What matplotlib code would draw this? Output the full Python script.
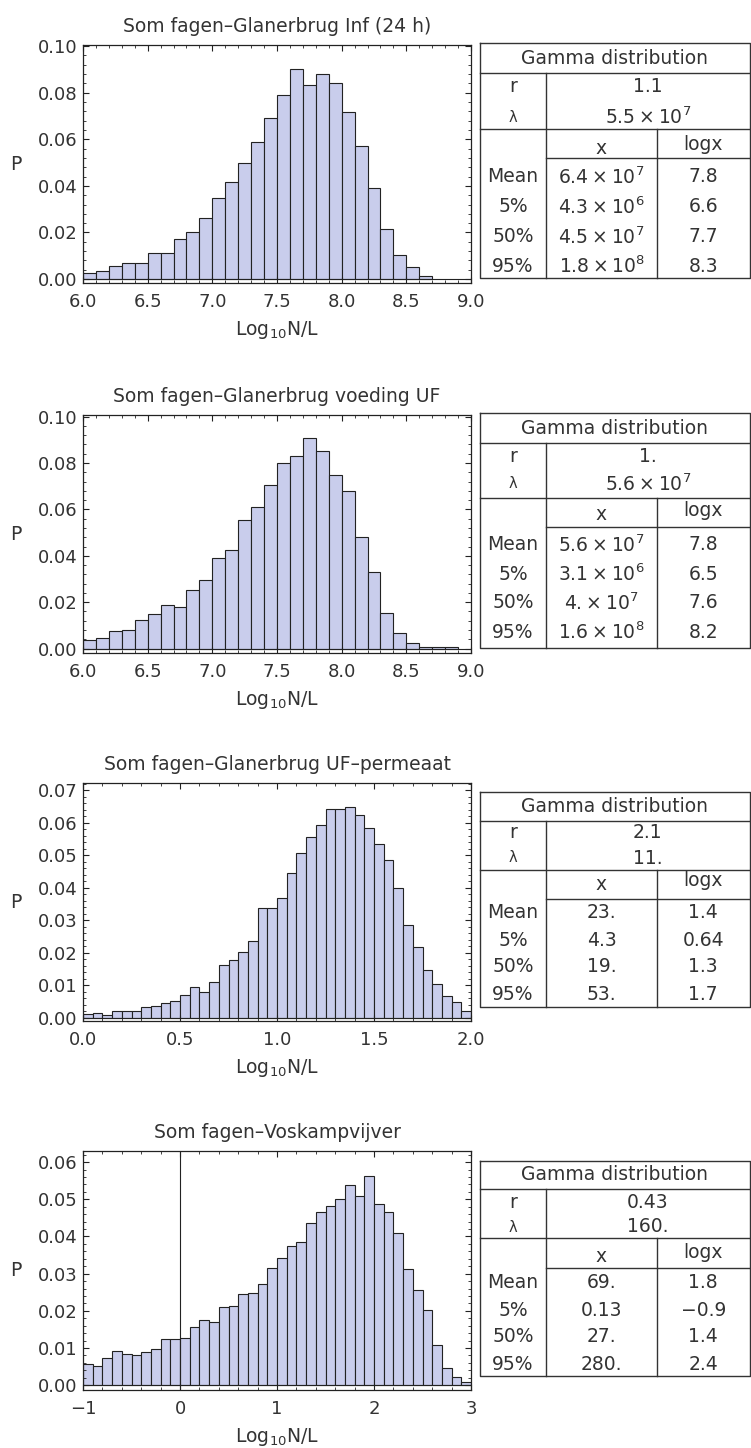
import numpy as np
import matplotlib
matplotlib.use("Agg")
import matplotlib.pyplot as plt
from matplotlib.ticker import MultipleLocator, FormatStrFormatter

plt.rcParams['font.family'] = ['DejaVu Sans']
plt.rcParams['mathtext.default'] = 'regular'

# histogram data
titles = ["Som fagen–Glanerbrug Inf (24 h)",
          "Som fagen–Glanerbrug voeding UF",
          "Som fagen–Glanerbrug UF–permeaat",
          "Som fagen–Voskampvijver"]
bin_start = [6.0, 6.0, 0.0, -1.0]
bin_width = [0.1, 0.1, 0.05, 0.1]

p_inf = [0.0028, 0.0036, 0.0057, 0.0070, 0.0070, 0.0110, 0.0110, 0.0172, 0.0200,
         0.0260, 0.0350, 0.0418, 0.0500, 0.0587, 0.0690, 0.0790, 0.0900, 0.0832,
         0.0880, 0.0840, 0.0717, 0.0573, 0.0390, 0.0213, 0.0104, 0.0050, 0.0011]

p_voeding = [0.0039, 0.0047, 0.0075, 0.0082, 0.0122, 0.0150, 0.0190, 0.0178, 0.0253,
             0.0295, 0.0390, 0.0424, 0.0555, 0.0611, 0.0707, 0.0800, 0.0830, 0.0906,
             0.0850, 0.0748, 0.0680, 0.0479, 0.0330, 0.0155, 0.0068, 0.0026, 0.0007,
             0.0007, 0.0007]

p_permeaat = [0.0012, 0.0015, 0.0010, 0.0021, 0.0021, 0.0021, 0.0032, 0.0037, 0.0045,
              0.0051, 0.0070, 0.0094, 0.0080, 0.0109, 0.0163, 0.0179, 0.0202, 0.0237,
              0.0339, 0.0339, 0.0369, 0.0447, 0.0507, 0.0556, 0.0595, 0.0643, 0.0643,
              0.0648, 0.0625, 0.0585, 0.0535, 0.0487, 0.0399, 0.0286, 0.0217, 0.0147,
              0.0103, 0.0066, 0.0050, 0.0020]

p_voskamp = [0.0056, 0.0051, 0.0072, 0.0093, 0.0085, 0.0081, 0.0089, 0.0098, 0.0124,
             0.0124, 0.0128, 0.0157, 0.0175, 0.0170, 0.0209, 0.0213, 0.0244, 0.0247,
             0.0273, 0.0316, 0.0342, 0.0375, 0.0384, 0.0436, 0.0466, 0.0483, 0.0500,
             0.0539, 0.0509, 0.0564, 0.0487, 0.0466, 0.0410, 0.0312, 0.0256, 0.0201,
             0.0107, 0.0047, 0.0021, 0.0009]

series = [p_inf, p_voeding, p_permeaat, p_voskamp]

# gamma fit tables
gamma_r = ["1.1", "1.", "2.1", "0.43"]
gamma_lam = ["5.5\u2009×\u200910$^{7}$", "5.6\u2009×\u200910$^{7}$", "11.", "160."]
stat_labels = ["Mean", "5%", "50%", "95%"]
x_vals = [["6.4\u2009×\u200910$^{7}$", "4.3\u2009×\u200910$^{6}$", "4.5\u2009×\u200910$^{7}$", "1.8\u2009×\u200910$^{8}$"],
          ["5.6\u2009×\u200910$^{7}$", "3.1\u2009×\u200910$^{6}$", "4.\u2009×\u200910$^{7}$", "1.6\u2009×\u200910$^{8}$"],
          ["23.", "4.3", "19.", "53."],
          ["69.", "0.13", "27.", "280."]]
logx_vals = [["7.8", "6.6", "7.7", "8.3"],
             ["7.8", "6.5", "7.6", "8.2"],
             ["1.4", "0.64", "1.3", "1.7"],
             ["1.8", "−0.9", "1.4", "2.4"]]

W, H = 751, 1448
bar_color = '#c9cdec'
txt_color = '#333333'
fs_tick = 13
fs_text = 13.5

fig = plt.figure(figsize=(W / 100, H / 100), dpi=100)

# axes layout in pixels
ax_left, ax_right = 83, 471
ax_tops = [45, 415, 783, 1151]
ax_bots = [283, 653, 1021, 1390]
xlims = [(6, 9), (6, 9), (0, 2), (-1, 3)]
ylims = [(-0.0017, 0.1005), (-0.0019, 0.1007), (-0.001, 0.0723), (-0.0013, 0.063)]
xmajor = [0.5, 0.5, 0.5, 1.0]
xminor = [0.1, 0.1, 0.1, 0.2]
ymajor = [0.02, 0.02, 0.01, 0.01]
yminor = [0.004, 0.004, 0.002, 0.002]

for i in range(4):
    axh = ax_bots[i] - ax_tops[i]
    ax = fig.add_axes([ax_left / W, 1 - ax_bots[i] / H,
                       (ax_right - ax_left) / W, axh / H])
    vals = series[i]
    lefts = [bin_start[i] + k * bin_width[i] for k in range(len(vals))]
    ax.bar(lefts, vals, width=bin_width[i], align='edge', color=bar_color,
           edgecolor='#222222', linewidth=0.8)
    ax.axhline(0, color='#222222', lw=0.8)
    if i == 3:
        ax.axvline(0, color='#222222', lw=0.8)
    ax.set_xlim(*xlims[i])
    ax.set_ylim(*ylims[i])
    ax.xaxis.set_major_locator(MultipleLocator(xmajor[i]))
    ax.xaxis.set_minor_locator(MultipleLocator(xminor[i]))
    ax.yaxis.set_major_locator(MultipleLocator(ymajor[i]))
    ax.yaxis.set_minor_locator(MultipleLocator(yminor[i]))
    ax.yaxis.set_major_formatter(FormatStrFormatter('%.2f'))
    if i == 3:
        ax.set_xticks([-1, 0, 1, 2, 3])
        ax.set_xticklabels(['−1', '0', '1', '2', '3'])
    else:
        ax.xaxis.set_major_formatter(FormatStrFormatter('%.1f'))
    ax.tick_params(which='both', direction='in', top=True, right=True,
                   labelsize=fs_tick, labelcolor=txt_color, color='#222222')
    ax.tick_params(axis='x', pad=7)
    ax.tick_params(axis='y', pad=4)
    ax.tick_params(which='major', length=4.5, width=0.8)
    ax.tick_params(which='minor', length=2.5, width=0.6)
    for s in ax.spines.values():
        s.set_linewidth(0.9)
        s.set_color('#222222')
    ax.set_title(titles[i], fontsize=fs_text, color=txt_color, pad=9)
    ax.set_xlabel("Log$_{10}$N/L", fontsize=fs_text, color=txt_color, va='center')
    ax.xaxis.set_label_coords(0.5, -47 / axh)
    ax.set_ylabel("P", fontsize=fs_text, color=txt_color, rotation=0, va='center', ha='center')
    ax.yaxis.set_label_coords(-67 / 388, 0.5)

# tables, drawn in pixel coordinates on an overlay axes
tab = fig.add_axes([0, 0, 1, 1])
tab.set_xlim(0, W)
tab.set_ylim(H, 0)
tab.axis('off')

tx0, tx1, tx2, tx3 = 480, 546, 657, 749.5
# top, header line, lambda line, x header line, bottom
t_lines = [(43, 73, 129, 158, 278),
           (413, 443, 498, 527, 648),
           (792, 821, 870, 899, 1007),
           (1161, 1189, 1238, 1268, 1376)]
# header, r, lambda, x-header, 4 stat rows
t_rows = [(59, 87, 117, 148, [177, 207, 237, 266]),
          (429, 456, 484, 514, [545, 574, 603, 632]),
          (806, 833, 858, 885, [913, 940, 967, 995]),
          (1175, 1202, 1227, 1256, [1283, 1310, 1337, 1364])]

lc = '#333333'
lw = 1.0
for i in range(4):
    top, hl, ll, xl, bot = t_lines[i]
    tab.plot([tx0, tx3, tx3, tx0, tx0], [top, top, bot, bot, top], color=lc, lw=lw)
    tab.plot([tx0, tx3], [hl, hl], color=lc, lw=lw)
    tab.plot([tx0, tx3], [ll, ll], color=lc, lw=lw)
    tab.plot([tx1, tx3], [xl, xl], color=lc, lw=lw)
    tab.plot([tx1, tx1], [hl, bot], color=lc, lw=lw)
    tab.plot([tx2, tx2], [ll, bot], color=lc, lw=lw)

    hy, ry, lamy, xy, sy = t_rows[i]
    kw = dict(fontsize=fs_text, color=txt_color, ha='center', va='center')
    tab.text((tx0 + tx3) / 2, hy, "Gamma distribution", **kw)
    tab.text((tx0 + tx1) / 2, ry, "r", **kw)
    tab.text((tx0 + tx1) / 2, lamy, "λ", fontsize=fs_text - 3, color=txt_color,
             ha='center', va='center')
    tab.text((tx1 + tx3) / 2, ry, gamma_r[i], **kw)
    tab.text((tx1 + tx3) / 2, lamy, gamma_lam[i], **kw)
    tab.text((tx1 + tx2) / 2, xy, "x", **kw)
    tab.text((tx2 + tx3) / 2, xy - 4, "logx", **kw)
    for k in range(4):
        tab.text((tx0 + tx1) / 2, sy[k], stat_labels[k], **kw)
        tab.text((tx1 + tx2) / 2, sy[k], x_vals[i][k], **kw)
        tab.text((tx2 + tx3) / 2, sy[k], logx_vals[i][k], **kw)

fig.savefig("out.png", dpi=100)
